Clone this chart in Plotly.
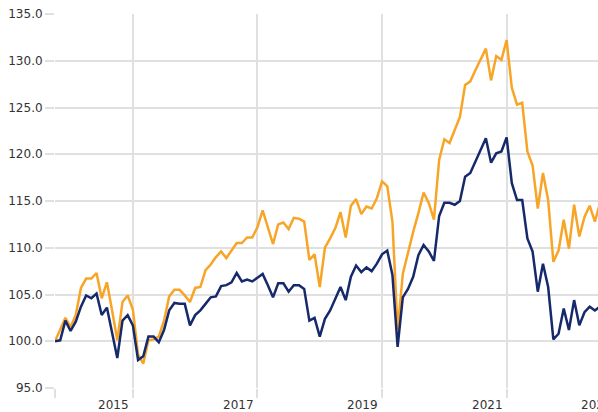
import plotly.graph_objects as go

# month index (0 = first observation), monthly data
months = list(range(106))

navy_values = [
    100.0, 100.1, 102.2, 101.1, 102.1, 103.7, 104.9, 104.6, 105.1, 102.8,
    103.6, 100.8, 98.2, 102.2, 102.8, 101.7, 98.0, 98.4, 100.5, 100.5,
    99.9, 101.2, 103.3, 104.1, 104.0, 104.0, 101.7, 102.8, 103.3, 104.0,
    104.7, 104.8, 105.9, 106.0, 106.3, 107.3, 106.4, 106.6, 106.4, 106.8,
    107.2, 106.0, 104.7, 106.2, 106.2, 105.3, 106.0, 106.0, 105.6, 102.2,
    102.5, 100.5, 102.4, 103.3, 104.6, 105.8, 104.4, 106.9, 108.1, 107.4,
    107.9, 107.5, 108.3, 109.3, 109.7, 107.1, 99.4, 104.7, 105.6, 106.9,
    109.2, 110.3, 109.6, 108.6, 113.4, 114.8, 114.8, 114.6, 115.0, 117.6,
    118.0, 119.2, 120.4, 121.7, 119.1, 120.1, 120.3, 121.8, 116.9, 115.1,
    115.1, 111.0, 109.6, 105.3, 108.3, 105.8, 100.2, 100.8, 103.5, 101.2,
    104.4, 101.7, 103.1, 103.7, 103.3, 103.7,
]

orange_values = [
    100.0, 101.2, 102.5, 101.5, 102.8, 105.7, 106.7, 106.7, 107.3, 104.6,
    106.3, 103.3, 100.1, 104.2, 104.9, 103.4, 98.6, 97.6, 100.1, 100.2,
    100.5, 102.2, 104.8, 105.5, 105.5, 104.9, 104.2, 105.7, 105.8, 107.6,
    108.2, 109.0, 109.6, 108.9, 109.7, 110.5, 110.5, 111.1, 111.1, 112.2,
    114.0, 112.2, 110.4, 112.5, 112.7, 112.0, 113.2, 113.1, 112.8, 108.7,
    109.3, 105.8, 110.0, 111.0, 112.1, 113.8, 111.1, 114.5, 115.2, 113.6,
    114.4, 114.2, 115.3, 117.1, 116.6, 112.8, 101.2, 107.2, 109.6, 111.7,
    113.7, 115.9, 114.8, 113.0, 119.4, 121.6, 121.2, 122.6, 124.0, 127.4,
    127.8, 129.0, 130.1, 131.3, 127.9, 130.5, 130.1, 132.2, 127.1, 125.3,
    125.5, 120.3, 118.8, 114.2, 118.0, 115.1, 108.5, 109.7, 113.0, 109.9,
    114.6, 111.2, 113.3, 114.5, 112.8, 114.8,
]

year_labels = ["2015", "2017", "2019", "2021", "2023"]
year_label_months = [11.3, 35.3, 59.3, 83.3, 100.9]
year_label_anchor = ["center", "center", "center", "center", "left"]
x_grid_months = [0, 15, 39, 63, 87]
y_ticks = [95, 100, 105, 110, 115, 120, 125, 130, 135]

X_RANGE = [0, 104.6]

NAVY = "#15296b"
ORANGE = "#f8a527"
GRID = "#e0e0e0"
FONT = "DejaVu Sans, Verdana, sans-serif"

fig = go.Figure()
fig.add_trace(go.Scatter(x=months, y=orange_values, mode="lines",
                         line=dict(color=ORANGE, width=2.5), showlegend=False,
                         hoverinfo="skip"))
fig.add_trace(go.Scatter(x=months, y=navy_values, mode="lines",
                         line=dict(color=NAVY, width=2.5), showlegend=False,
                         hoverinfo="skip"))

span = X_RANGE[1] - X_RANGE[0]
for lab, m, anc in zip(year_labels, year_label_months, year_label_anchor):
    fig.add_annotation(x=(m - X_RANGE[0]) / span, xref="paper", y=0, yref="paper",
                       text=lab, showarrow=False, yanchor="middle", xanchor=anc,
                       yshift=-17, font=dict(family=FONT, size=12, color="#333333"))

fig.update_layout(
    width=598, height=412,
    margin=dict(l=55, r=0, t=14, b=24, autoexpand=False),
    paper_bgcolor="white", plot_bgcolor="white",
    xaxis=dict(range=X_RANGE, tickmode="array", tickvals=x_grid_months,
               showticklabels=False, showgrid=True, gridcolor=GRID, gridwidth=2,
               ticks="outside", ticklen=9, tickwidth=2, tickcolor=GRID,
               zeroline=False, showline=False),
    yaxis=dict(range=[95, 135], tickmode="array", tickvals=y_ticks,
               tickformat=".1f", showgrid=True, gridcolor=GRID, gridwidth=2,
               ticks="outside", ticklen=9, tickwidth=2, tickcolor=GRID,
               zeroline=False, showline=False,
               tickfont=dict(family=FONT, size=12, color="#333333")),
)

fig.write_html("out.html")
